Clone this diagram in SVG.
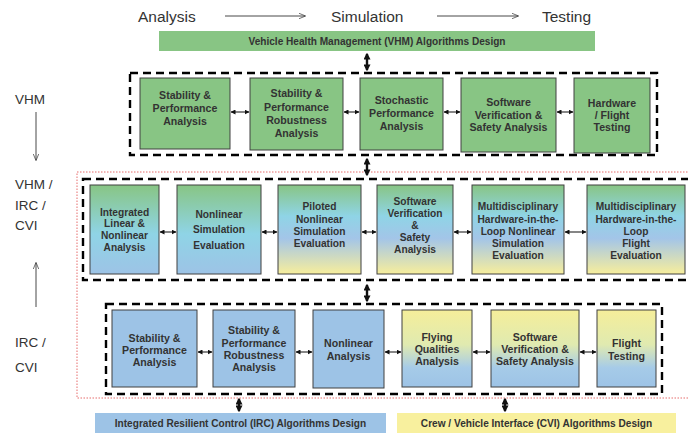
<svg xmlns="http://www.w3.org/2000/svg" width="688" height="436" viewBox="0 0 688 436">
<defs>
<linearGradient id="gGB" x1="0" y1="0" x2="0" y2="1">
<stop offset="0" stop-color="#88c584"/>
<stop offset="0.55" stop-color="#8fd4e6"/>
<stop offset="1" stop-color="#9dc3e6"/>
</linearGradient>
<linearGradient id="gGBY" x1="0" y1="0" x2="0" y2="1">
<stop offset="0" stop-color="#88c584"/>
<stop offset="0.35" stop-color="#8fd4e6"/>
<stop offset="0.6" stop-color="#a3c5e8"/>
<stop offset="1" stop-color="#f7ee9c"/>
</linearGradient>
<linearGradient id="gYB" x1="0" y1="0" x2="0" y2="1">
<stop offset="0" stop-color="#f5ee9a"/>
<stop offset="0.45" stop-color="#e0eab0"/>
<stop offset="0.75" stop-color="#a6cbe8"/>
<stop offset="1" stop-color="#9dc3e6"/>
</linearGradient>
<marker id="ah" viewBox="0 0 10 10" refX="9" refY="5" markerWidth="5" markerHeight="5" markerUnits="userSpaceOnUse" orient="auto-start-reverse">
<path d="M0,0 L10,5 L0,10 z" fill="#111"/>
</marker>
<marker id="av" viewBox="0 0 10 10" refX="8" refY="5" markerWidth="7" markerHeight="7" markerUnits="userSpaceOnUse" orient="auto-start-reverse">
<path d="M0,0 L10,5 L0,10 z" fill="#111"/>
</marker>
<marker id="at" viewBox="0 0 10 10" refX="9" refY="5" markerWidth="7" markerHeight="7" markerUnits="userSpaceOnUse" orient="auto">
<path d="M0,1 L10,5 L0,9" fill="none" stroke="#333" stroke-width="1"/>
</marker>
</defs>
<style>
.hd{font-family:"Liberation Sans",Arial,sans-serif;font-size:15.5px;fill:#333}
.sd{font-family:"Liberation Sans",Arial,sans-serif;font-size:13.5px;fill:#333}
.t{font-family:"Liberation Sans",Arial,sans-serif;font-size:10.6px;font-weight:bold;fill:#333;text-anchor:middle}
.t2{font-family:"Liberation Sans",Arial,sans-serif;font-size:10.2px;font-weight:bold;fill:#333;text-anchor:middle}
.bt{font-family:"Liberation Sans",Arial,sans-serif;font-size:10.1px;font-weight:bold;fill:#333;text-anchor:middle}
.bx{stroke:#404040;stroke-width:1}
.g{fill:#88c584}
.b{fill:#9dc3e6}
.dash{fill:none;stroke:#000;stroke-width:2.4;stroke-dasharray:8,5}
.red{fill:none;stroke:#e04848;stroke-width:0.8;stroke-dasharray:1.5,1.5}
.ha{stroke:#444;stroke-width:1.3;marker-start:url(#ah);marker-end:url(#ah)}
.va{stroke:#111;stroke-width:2.4;marker-start:url(#av);marker-end:url(#av)}
.la{stroke:#333;stroke-width:0.9;marker-end:url(#at)}
</style>
<rect width="688" height="436" fill="#fff"/>

<!-- header -->
<g id="header">
<text class="hd" x="138" y="22">Analysis</text>
<text class="hd" x="331" y="22">Simulation</text>
<text class="hd" x="542" y="22">Testing</text>
</g>
<g id="side-labels">
<text class="sd" x="15" y="104">VHM</text>
<text class="sd" x="15" y="189">VHM /</text>
<text class="sd" x="15" y="210">IRC /</text>
<text class="sd" x="15" y="230">CVI</text>
<text class="sd" x="15" y="347">IRC /</text>
<text class="sd" x="15" y="372">CVI</text>
</g>

<!-- frames -->
<g id="frames">
<rect class="red" x="77" y="172" width="620" height="226"/>
<rect class="dash" x="130" y="73" width="527" height="82"/>
<rect class="dash" x="83" y="179" width="615" height="101"/>
<rect class="dash" x="106" y="304" width="556" height="90"/>
</g>

<!-- banners -->
<g id="vhm-banner">
<rect x="159" y="31" width="436" height="20" class="g"/>
<text class="bt" x="377" y="45">Vehicle Health Management (VHM) Algorithms Design</text>
</g>
<g id="irc-banner">
<rect x="95" y="413" width="291" height="20" fill="#9dc3e6"/>
<text class="bt" x="240.5" y="427">Integrated Resilient Control (IRC) Algorithms Design</text>
</g>
<g id="cvi-banner">
<rect x="397" y="413" width="279" height="20" fill="#f8f09e"/>
<text class="bt" x="536.5" y="427">Crew / Vehicle Interface (CVI) Algorithms Design</text>
</g>

<!-- row 1 -->
<g id="r1-1"><rect class="bx g" x="140" y="78" width="90" height="71"/>
<text class="t" x="185"><tspan x="185" y="99">Stability &amp;</tspan><tspan x="185" y="112">Performance</tspan><tspan x="185" y="125">Analysis</tspan></text></g>
<g id="r1-2"><rect class="bx g" x="250" y="78" width="93" height="72"/>
<text class="t"><tspan x="296.5" y="97">Stability &amp;</tspan><tspan x="296.5" y="110.5">Performance</tspan><tspan x="296.5" y="124">Robustness</tspan><tspan x="296.5" y="137">Analysis</tspan></text></g>
<g id="r1-3"><rect class="bx g" x="360" y="78" width="83" height="72"/>
<text class="t"><tspan x="401.5" y="104">Stochastic</tspan><tspan x="401.5" y="117">Performance</tspan><tspan x="401.5" y="130">Analysis</tspan></text></g>
<g id="r1-4"><rect class="bx g" x="461" y="78" width="95" height="74"/>
<text class="t"><tspan x="508.5" y="106">Software</tspan><tspan x="508.5" y="118.5">Verification &amp;</tspan><tspan x="508.5" y="131">Safety Analysis</tspan></text></g>
<g id="r1-5"><rect class="bx g" x="574" y="78" width="76" height="75"/>
<text class="t"><tspan x="612" y="107">Hardware</tspan><tspan x="612" y="119">/ Flight</tspan><tspan x="612" y="131">Testing</tspan></text></g>

<!-- row 2 -->
<g id="r2-1"><rect class="bx" fill="url(#gGB)" x="90" y="185" width="69" height="89"/>
<text class="t2"><tspan x="124.5" y="215.5">Integrated</tspan><tspan x="124.5" y="227">Linear &amp;</tspan><tspan x="124.5" y="239">Nonlinear</tspan><tspan x="124.5" y="251">Analysis</tspan></text></g>
<g id="r2-2"><rect class="bx" fill="url(#gGB)" x="177" y="185" width="84" height="89"/>
<text class="t2"><tspan x="219" y="218">Nonlinear</tspan><tspan x="219" y="233">Simulation</tspan><tspan x="219" y="249">Evaluation</tspan></text></g>
<g id="r2-3"><rect class="bx" fill="url(#gGBY)" x="278" y="185" width="83" height="89"/>
<text class="t2"><tspan x="319.5" y="210">Piloted</tspan><tspan x="319.5" y="223">Nonlinear</tspan><tspan x="319.5" y="235">Simulation</tspan><tspan x="319.5" y="247">Evaluation</tspan></text></g>
<g id="r2-4"><rect class="bx" fill="url(#gGBY)" x="377" y="185" width="76" height="89"/>
<text class="t2"><tspan x="415" y="205">Software</tspan><tspan x="415" y="217">Verification</tspan><tspan x="415" y="229">&amp;</tspan><tspan x="415" y="241">Safety</tspan><tspan x="415" y="253">Analysis</tspan></text></g>
<g id="r2-5"><rect class="bx" fill="url(#gGBY)" x="472" y="185" width="92" height="89"/>
<text class="t2"><tspan x="518" y="210">Multidisciplinary</tspan><tspan x="518" y="222.5">Hardware-in-the-</tspan><tspan x="518" y="235">Loop Nonlinear</tspan><tspan x="518" y="247">Simulation</tspan><tspan x="518" y="259">Evaluation</tspan></text></g>
<g id="r2-6"><rect class="bx" fill="url(#gGBY)" x="587" y="185" width="98" height="89"/>
<text class="t2"><tspan x="636" y="210">Multidisciplinary</tspan><tspan x="636" y="222.5">Hardware-in-the-</tspan><tspan x="636" y="235">Loop</tspan><tspan x="636" y="247">Flight</tspan><tspan x="636" y="259">Evaluation</tspan></text></g>

<!-- row 3 -->
<g id="r3-1"><rect class="bx b" x="112" y="310" width="85" height="77"/>
<text class="t"><tspan x="154.5" y="342">Stability &amp;</tspan><tspan x="154.5" y="354">Performance</tspan><tspan x="154.5" y="366">Analysis</tspan></text></g>
<g id="r3-2"><rect class="bx b" x="213" y="310" width="82" height="77"/>
<text class="t"><tspan x="254" y="334">Stability &amp;</tspan><tspan x="254" y="347">Performance</tspan><tspan x="254" y="359">Robustness</tspan><tspan x="254" y="371">Analysis</tspan></text></g>
<g id="r3-3"><rect class="bx b" x="313" y="310" width="71" height="78"/>
<text class="t"><tspan x="348.5" y="347">Nonlinear</tspan><tspan x="348.5" y="360">Analysis</tspan></text></g>
<g id="r3-4"><rect class="bx" fill="url(#gYB)" x="402" y="310" width="70" height="77"/>
<text class="t"><tspan x="437" y="341">Flying</tspan><tspan x="437" y="353">Qualities</tspan><tspan x="437" y="365">Analysis</tspan></text></g>
<g id="r3-5"><rect class="bx" fill="url(#gYB)" x="491" y="310" width="88" height="77"/>
<text class="t"><tspan x="535" y="341">Software</tspan><tspan x="535" y="353">Verification &amp;</tspan><tspan x="535" y="365">Safety Analysis</tspan></text></g>
<g id="r3-6"><rect class="bx" fill="url(#gYB)" x="597" y="310" width="59" height="77"/>
<text class="t"><tspan x="626.5" y="347">Flight</tspan><tspan x="626.5" y="360">Testing</tspan></text></g>

<!-- connectors -->
<g id="connectors">
<line class="la" x1="225" y1="16" x2="305" y2="16"/>
<line class="la" x1="437" y1="16" x2="518" y2="16"/>
<line class="la" x1="36" y1="112" x2="36" y2="160"/>
<line class="la" x1="36" y1="307" x2="36" y2="263"/>

<line class="va" x1="367" y1="54" x2="367" y2="70"/>
<line class="va" x1="367" y1="159" x2="367" y2="175"/>
<line class="va" x1="367" y1="285" x2="367" y2="301"/>
<line class="va" x1="239" y1="399" x2="239" y2="411"/>
<line class="va" x1="505" y1="399" x2="505" y2="411"/>

<line class="ha" x1="231" y1="112" x2="249" y2="112"/>
<line class="ha" x1="344" y1="112" x2="359" y2="112"/>
<line class="ha" x1="444" y1="112" x2="460" y2="112"/>
<line class="ha" x1="557" y1="112" x2="573" y2="112"/>

<line class="ha" x1="160" y1="232" x2="176" y2="232"/>
<line class="ha" x1="262" y1="232" x2="277" y2="232"/>
<line class="ha" x1="362" y1="232" x2="376" y2="232"/>
<line class="ha" x1="454" y1="232" x2="471" y2="232"/>
<line class="ha" x1="565" y1="232" x2="586" y2="232"/>

<line class="ha" x1="198" y1="352" x2="212" y2="352"/>
<line class="ha" x1="296" y1="352" x2="312" y2="352"/>
<line class="ha" x1="385" y1="352" x2="401" y2="352"/>
<line class="ha" x1="473" y1="352" x2="490" y2="352"/>
<line class="ha" x1="580" y1="352" x2="596" y2="352"/>
</g>
</svg>
